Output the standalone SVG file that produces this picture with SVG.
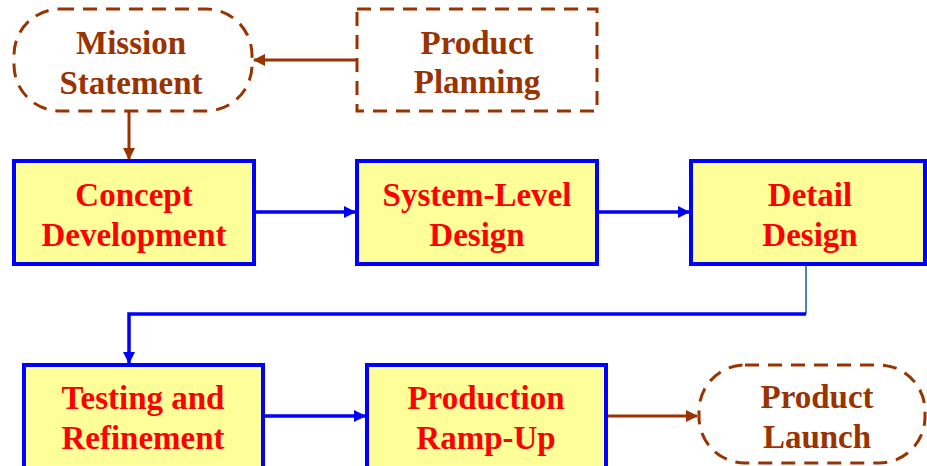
<svg xmlns="http://www.w3.org/2000/svg" width="927" height="466" viewBox="0 0 927 466">
  <style>
    .stage rect { fill: #FFFF99; stroke: #0000FF; stroke-width: 4; }
    .stage text { fill: #FF0000; }
    .ext rect { fill: none; stroke: #993300; stroke-width: 3; stroke-dasharray: 14 9; }
    .ext text { fill: #993300; }
    text { font-family: "Liberation Serif", "Times New Roman", serif; font-weight: bold; font-size: 33px; text-anchor: middle; }
    .flow { fill: none; stroke: #0000FF; stroke-width: 3.5; }
    .brown { fill: none; stroke: #993300; stroke-width: 3; }
  </style>
  <defs>
    <marker id="arrBlue" markerWidth="12" markerHeight="12" refX="11" refY="6" orient="auto" markerUnits="userSpaceOnUse">
      <path d="M0,0 L12,6 L0,12 z" fill="#0000FF"/>
    </marker>
    <marker id="arrBrown" markerWidth="12" markerHeight="12" refX="11" refY="6" orient="auto" markerUnits="userSpaceOnUse">
      <path d="M0,0 L12,6 L0,12 z" fill="#993300"/>
    </marker>
  </defs>

  <rect width="927" height="466" fill="#FFFFFF"/>

  <!-- connectors -->
  <g id="connectors">
    <line class="brown" x1="357" y1="60" x2="254" y2="60" marker-end="url(#arrBrown)"/>
    <line class="brown" x1="129" y1="111" x2="129" y2="159" marker-end="url(#arrBrown)"/>
    <line class="flow" x1="254" y1="212" x2="355" y2="212" marker-end="url(#arrBlue)"/>
    <line class="flow" x1="597" y1="212" x2="689" y2="212" marker-end="url(#arrBlue)"/>
    <line x1="806" y1="265" x2="806" y2="314" stroke="#4F81BD" stroke-width="2"/>
    <polyline class="flow" points="806,314 129,314 129,363" marker-end="url(#arrBlue)"/>
    <line class="flow" x1="263" y1="416" x2="365" y2="416" marker-end="url(#arrBlue)"/>
    <line class="brown" x1="606" y1="416" x2="697" y2="416" marker-end="url(#arrBrown)"/>
  </g>

  <g id="mission-statement" class="ext">
    <rect x="14" y="9" width="238" height="102" rx="46" ry="46"/>
    <text x="131" y="54">Mission</text>
    <text x="131" y="94">Statement</text>
  </g>

  <g id="product-planning" class="ext">
    <rect x="357" y="9" width="240" height="102"/>
    <text x="477" y="54">Product</text>
    <text x="477" y="93">Planning</text>
  </g>

  <g id="concept-development" class="stage">
    <rect x="14" y="161" width="240" height="103"/>
    <text x="134" y="206">Concept</text>
    <text x="134" y="246">Development</text>
  </g>

  <g id="system-level-design" class="stage">
    <rect x="357" y="161" width="240" height="103"/>
    <text x="477" y="206">System-Level</text>
    <text x="477" y="246">Design</text>
  </g>

  <g id="detail-design" class="stage">
    <rect x="691" y="161" width="234" height="103"/>
    <text x="810" y="206">Detail</text>
    <text x="810" y="246">Design</text>
  </g>

  <g id="testing-refinement" class="stage">
    <rect x="24" y="365" width="239" height="106"/>
    <text x="143" y="409">Testing and</text>
    <text x="143" y="449">Refinement</text>
  </g>

  <g id="production-ramp-up" class="stage">
    <rect x="367" y="365" width="239" height="106"/>
    <text x="486" y="409">Production</text>
    <text x="486" y="449">Ramp-Up</text>
  </g>

  <g id="product-launch" class="ext">
    <rect x="699" y="365" width="226" height="98" rx="46" ry="46"/>
    <text x="817" y="408">Product</text>
    <text x="817" y="448">Launch</text>
  </g>
</svg>
